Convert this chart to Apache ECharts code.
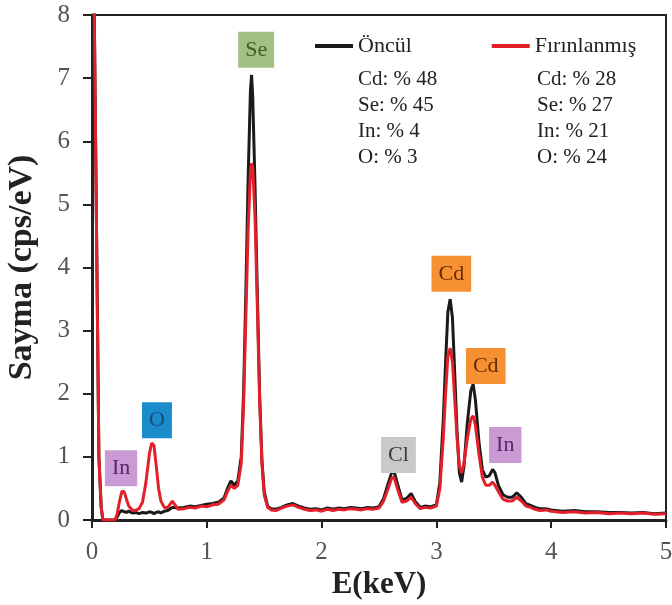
<!DOCTYPE html>
<html>
<head>
<meta charset="utf-8">
<script src="https://cdn.jsdelivr.net/npm/echarts@6/dist/echarts.min.js"></script>
<style>
  html, body { margin: 0; padding: 0; background: #fff; }
  #main { width: 672px; height: 605px; }
</style>
</head>
<body>
<div id="main"></div>
<script>
// EDS spektrumu: Öncül ve Fırınlanmış
var energy = [
  0, 0.02, 0.04, 0.06, 0.08, 0.095, 0.15, 0.2,
  0.22, 0.24, 0.26, 0.28, 0.3, 0.32, 0.35, 0.38, 0.41, 0.44, 0.47, 0.5, 0.52, 0.54, 0.56, 0.58, 0.6, 0.63, 0.66,
  0.7, 0.75, 0.8, 0.85, 0.9, 0.95, 1.0, 1.05, 1.1, 1.15, 1.18, 1.21, 1.24, 1.27, 1.3,
  1.32, 1.34, 1.36, 1.38, 1.39, 1.4, 1.42, 1.44, 1.46, 1.48, 1.5,
  1.53, 1.56, 1.6, 1.65, 1.7, 1.75, 1.8, 1.85, 1.9, 1.95, 2.0, 2.05, 2.1, 2.15, 2.2, 2.25, 2.3, 2.35, 2.4, 2.45, 2.5,
  2.54, 2.58, 2.61, 2.63, 2.66, 2.7, 2.74, 2.78, 2.82, 2.86, 2.9, 2.95, 3.0,
  3.03, 3.06, 3.08, 3.1, 3.12, 3.14, 3.16, 3.18, 3.2, 3.22, 3.24, 3.27, 3.3, 3.32, 3.34, 3.37, 3.4,
  3.43, 3.46, 3.49, 3.51, 3.54, 3.58, 3.62, 3.66, 3.7, 3.74, 3.78, 3.82, 3.86, 3.9, 3.95, 4.0, 4.1, 4.2, 4.3, 4.4, 4.5, 4.6, 4.7, 4.8, 4.9, 5.0
];
var oncul = [
  9, 8, 4.5, 1.0, 0.2, 0, 0, 0,
  0.05, 0.12, 0.15, 0.13, 0.12, 0.14, 0.11, 0.12, 0.1, 0.12, 0.11, 0.13, 0.12, 0.1, 0.12, 0.13, 0.11, 0.14, 0.15,
  0.2, 0.19, 0.2, 0.22, 0.21, 0.23, 0.25, 0.26, 0.28, 0.35, 0.5, 0.62, 0.55, 0.62, 1.0,
  2.0, 3.6, 5.4, 6.8, 7.05, 6.7, 5.3, 3.6, 2.0, 0.95, 0.45,
  0.22, 0.18, 0.17, 0.2, 0.24, 0.26, 0.22, 0.19, 0.17, 0.18, 0.16, 0.19, 0.17, 0.19, 0.18, 0.2, 0.19, 0.18, 0.2, 0.19, 0.21,
  0.34, 0.58, 0.75, 0.78, 0.58, 0.32, 0.34, 0.42, 0.28, 0.2, 0.22, 0.21, 0.24,
  0.6, 1.6, 2.5, 3.3, 3.5, 3.2, 2.3, 1.4, 0.75, 0.6, 0.85, 1.55, 2.05, 2.15, 1.9, 1.25, 0.8,
  0.68, 0.7, 0.8, 0.75, 0.55, 0.4, 0.36, 0.36, 0.43, 0.36, 0.26, 0.23, 0.2, 0.18, 0.18, 0.16, 0.14, 0.15, 0.13, 0.13, 0.12, 0.12, 0.11, 0.12, 0.1, 0.11
];
var firinlanmis = [
  9, 8, 4.5, 1.0, 0.2, 0, 0, 0,
  0.1, 0.3, 0.45, 0.45, 0.33, 0.22, 0.16, 0.15, 0.18, 0.28, 0.6, 1.05, 1.22, 1.18, 0.85, 0.5, 0.3, 0.2, 0.2,
  0.3, 0.17, 0.18, 0.2, 0.19, 0.22, 0.21, 0.24, 0.25, 0.32, 0.45, 0.55, 0.5, 0.55, 0.9,
  1.8, 3.2, 4.6, 5.5, 5.65, 5.6, 4.8, 3.4, 1.9, 0.9, 0.4,
  0.2, 0.16, 0.15, 0.19, 0.22, 0.24, 0.2, 0.17, 0.15, 0.16, 0.14, 0.17, 0.15, 0.17, 0.16, 0.18, 0.17, 0.16, 0.18, 0.17, 0.19,
  0.3, 0.5, 0.66, 0.68, 0.5, 0.28, 0.3, 0.36, 0.25, 0.18, 0.2, 0.19, 0.22,
  0.5, 1.3, 2.0, 2.6, 2.72, 2.5, 1.9, 1.3, 0.85, 0.75, 0.9, 1.3, 1.6, 1.65, 1.5, 1.05, 0.68,
  0.55, 0.55, 0.6, 0.55, 0.45, 0.33, 0.3, 0.3, 0.36, 0.3, 0.22, 0.2, 0.17, 0.15, 0.16, 0.14, 0.12, 0.13, 0.11, 0.12, 0.1, 0.11, 0.1, 0.11, 0.09, 0.1
];

// element etiketleri: [x, y, metin]
var peakLabels = [
  [1.43, 7.45, 'Se'],
  [0.566, 1.58, 'O'],
  [0.253, 0.82, 'In'],
  [2.67, 1.03, 'Cl'],
  [3.13, 3.90, 'Cd'],
  [3.43, 2.44, 'Cd'],
  [3.60, 1.19, 'In']
];
var labelColors = {
  Se: ['#a3bf83', '#3d5f1f'],
  O: ['#1a8ccc', '#1b4a7a'],
  In: ['#c99ad4', '#5b2466'],
  Cl: ['#c9c9c9', '#3a3a3a'],
  Cd: ['#f59033', '#6a2a00']
};

var oncuComp = ['Cd: % 48', 'Se: % 45', 'In: % 4', 'O: % 3'];
var firinComp = ['Cd: % 28', 'Se: % 27', 'In: % 21', 'O: % 24'];

var FONT = 'Liberation Serif';

function pairs(xs, ys) {
  var out = [];
  for (var i = 0; i < xs.length; i++) out.push([xs[i], ys[i]]);
  return out;
}

var labelData = peakLabels.map(function (p) {
  var c = labelColors[p[2]];
  return {
    value: [p[0], p[1]],
    name: p[2],
    label: { backgroundColor: c[0], color: c[1] }
  };
});

var myChart = echarts.init(document.getElementById('main'));

var option = {
  animation: false,
  grid: {
    left: 92, right: 6, top: 15, bottom: 85,
    outerBoundsMode: 'none', containLabel: false,
    show: true, borderColor: '#222', borderWidth: 2
  },
  legend: {
    data: [{ name: 'Öncül', icon: 'rect' }, { name: 'Fırınlanmış', icon: 'rect' }],
    left: 310, top: 30,
    itemWidth: 38, itemHeight: 4, itemGap: 80,
    textStyle: { fontFamily: FONT, fontSize: 22, color: '#222' }
  },
  xAxis: {
    type: 'value', min: 0, max: 5, interval: 1,
    name: 'E(keV)', nameLocation: 'middle', nameGap: 44,
    nameTextStyle: { fontFamily: FONT, fontSize: 31, fontWeight: 'bold', color: '#222' },
    axisLine: { lineStyle: { color: '#222', width: 3 } },
    axisTick: { length: 8, lineStyle: { color: '#222', width: 2 } },
    axisLabel: { fontFamily: FONT, fontSize: 25, color: '#555', margin: 20 },
    splitLine: { show: false }
  },
  yAxis: {
    type: 'value', min: 0, max: 8, interval: 1,
    name: 'Sayma (cps/eV)', nameLocation: 'middle', nameGap: 53,
    nameTextStyle: { fontFamily: FONT, fontSize: 34, fontWeight: 'bold', color: '#222' },
    axisLine: { show: true, lineStyle: { color: '#222', width: 3 } },
    axisTick: { show: true, length: 9, lineStyle: { color: '#222', width: 2 } },
    axisLabel: { fontFamily: FONT, fontSize: 25, color: '#555', margin: 22 },
    splitLine: { show: false }
  },
  series: [
    {
      name: 'Öncül', type: 'line', symbol: 'none',
      data: pairs(energy, oncul),
      lineStyle: { color: '#1a1a1a', width: 3 },
      itemStyle: { color: '#1a1a1a' }
    },
    {
      name: 'Fırınlanmış', type: 'line', symbol: 'none',
      data: pairs(energy, firinlanmis),
      lineStyle: { color: '#e3202a', width: 3 },
      itemStyle: { color: '#e3202a' }
    },
    {
      type: 'scatter', symbolSize: 1, silent: true,
      itemStyle: { color: 'rgba(0,0,0,0)', opacity: 1 },
      label: {
        show: true, position: 'inside', formatter: '{b}', opacity: 1,
        fontFamily: FONT, fontSize: 22, lineHeight: 22, padding: [7, 7]
      },
      data: labelData,
      z: 5
    }
  ],
  graphic: [
    {
      type: 'text', left: 358, top: 66,
      style: { text: oncuComp.join('\n'), fontFamily: FONT, fontSize: 21, lineHeight: 26, fill: '#222' }
    },
    {
      type: 'text', left: 537, top: 66,
      style: { text: firinComp.join('\n'), fontFamily: FONT, fontSize: 21, lineHeight: 26, fill: '#222' }
    }
  ]
};

myChart.setOption(option);
</script>
</body>
</html>
